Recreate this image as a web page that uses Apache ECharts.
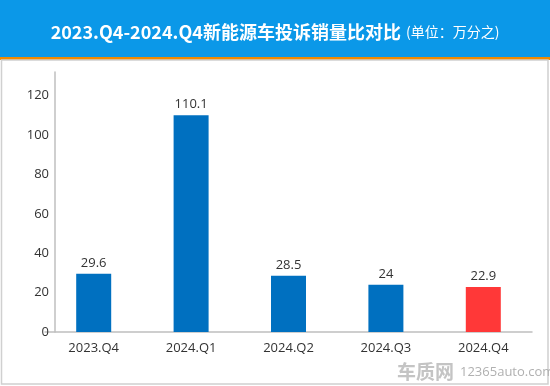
<!DOCTYPE html>
<html><head><meta charset="utf-8">
<script src="https://cdn.jsdelivr.net/npm/echarts@6/dist/echarts.min.js"></script>
<style>html,body{margin:0;padding:0;background:#fff}#c{width:550px;height:386px}</style>
</head><body><div id="c"></div>
<script>
var categories = ['2023.Q4','2024.Q1','2024.Q2','2024.Q3','2024.Q4'];
var values = [29.6, 110.1, 28.5, 24, 22.9];
var barColors = ['#0070C0','#0070C0','#0070C0','#0070C0','#FF3838'];
var yTicks = [0, 20, 40, 60, 80, 100, 120];

var chart = echarts.init(document.getElementById('c'));
chart.setOption({
  animation: false,
  graphic: [
    {type:'rect', shape:{x:0,y:0,width:550,height:57}, style:{fill:'#0B98E8'}, silent:true, z:0},
    {type:'rect', shape:{x:0,y:57,width:550,height:3}, style:{fill:'#F08A00'}, silent:true, z:0},
    {type:'rect', shape:{x:1.5,y:60,width:546.5,height:324}, style:{fill:'none', stroke:'#D0D0D0', lineWidth:1.5}, silent:true, z:0},
    {type:'text', left:397, top:362, silent:true, z:1,
      style:{text:'车质网', fill:'#C4C4C4', font:'bold 19px "Noto Sans CJK SC", sans-serif'}},
    {type:'text', left:460, top:366, silent:true, z:1,
      style:{text:'12365auto.com', fill:'#B0B0B0', font:'13px "Open Sans", sans-serif'}}
  ],
  title: {
    text: '{a|2023.Q4-2024.Q4新能源车投诉销量比对比} {b|(单位：万分之)}',
    left: 'center', top: 18,
    textStyle: {
      rich: {
        a: {color:'#fff', fontSize:18, fontWeight:'bold', fontFamily:'"Noto Sans CJK SC", sans-serif'},
        b: {color:'#fff', fontSize:14, fontWeight:'normal', fontFamily:'"Noto Sans CJK SC", sans-serif'}
      }
    }
  },
  grid: {left: 45, right: 18, top: 72, bottom: 54},
  xAxis: {
    type: 'category', data: categories,
    axisLine: {lineStyle:{color:'#BFBFBF', width:1.5}},
    axisTick: {show:false},
    axisLabel: {color:'#333', fontSize:13, margin:10, fontFamily:'"Open Sans", sans-serif'}
  },
  yAxis: {
    type: 'value', min: 0, max: 132, interval: 20, offset: -10,
    axisLine: {show:true, lineStyle:{color:'#BFBFBF', width:1.5}},
    axisTick: {show:false},
    splitLine: {show:false},
    axisLabel: {color:'#333', fontSize:13, margin:6, fontFamily:'"Open Sans", sans-serif',
      formatter: function(v){ return yTicks.indexOf(v) >= 0 ? String(v) : ''; }}
  },
  series: [{
    type: 'bar', barWidth: 35,
    data: values.map(function(v,i){ return {value:v, itemStyle:{color:barColors[i]}}; }),
    label: {show:true, position:'top', distance:4, color:'#333', fontSize:13, fontFamily:'"Open Sans", sans-serif'}
  }]
});
</script></body></html>
